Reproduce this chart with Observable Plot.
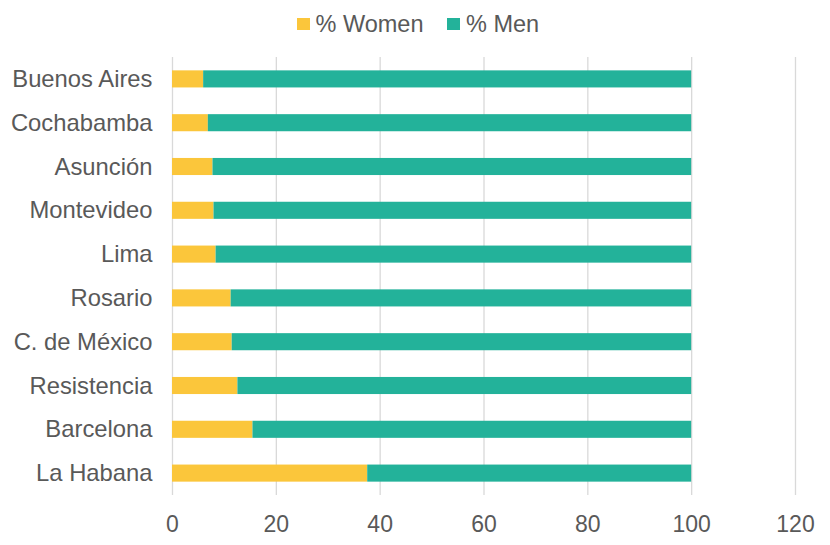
<!DOCTYPE html>
<html>
<head>
<meta charset="utf-8">
<script src="https://cdn.jsdelivr.net/npm/d3@7"></script>
<script src="https://cdn.jsdelivr.net/npm/@observablehq/plot@0.6"></script>
<style>
  html, body { margin: 0; padding: 0; background: #fff; }
  body { width: 830px; height: 545px; overflow: hidden; font-family: "Liberation Sans", Arial, sans-serif; position: relative; }
  #legend { position: absolute; left: 297px; top: 9px; height: 30px; display: flex; align-items: center; color: #595959; font-size: 23.5px; white-space: nowrap; }
  .item { display: flex; align-items: center; margin-right: 24px; }
  .sw { width: 12.5px; height: 12.5px; margin-right: 6px; }
  #chart { position: absolute; left: 0; top: 45px; }
</style>
</head>
<body>
<div id="legend"></div>
<div id="chart"></div>
<script>
const cities = ["Buenos Aires", "Cochabamba", "Asunción", "Montevideo", "Lima", "Rosario", "C. de México", "Resistencia", "Barcelona", "La Habana"];
const women = [6.0, 6.9, 7.8, 8.0, 8.4, 11.3, 11.5, 12.6, 15.5, 37.6];
const men = [94.0, 93.1, 92.2, 92.0, 91.6, 88.7, 88.5, 87.4, 84.5, 62.4];
const seriesNames = ["% Women", "% Men"];
const seriesColors = ["#FBC63B", "#23B29A"];
const xTicks = [0, 20, 40, 60, 80, 100, 120];

const rows = [];
cities.forEach((c, i) => {
  rows.push({city: c, series: seriesNames[0], value: women[i]});
  rows.push({city: c, series: seriesNames[1], value: men[i]});
});

const legend = document.getElementById("legend");
seriesNames.forEach((n, i) => {
  const it = document.createElement("div");
  it.className = "item";
  it.innerHTML = `<span class="sw" style="background:${seriesColors[i]}"></span><span>${n}</span>`;
  legend.appendChild(it);
});

const chart = Plot.plot({
  width: 830,
  height: 500,
  marginTop: 12,
  marginBottom: 50,
  marginLeft: 172,
  marginRight: 35,
  style: {fontFamily: "Liberation Sans, Arial, sans-serif", fontSize: "23px", color: "#595959", background: "#fff"},
  x: {domain: [0, 120], ticks: xTicks, label: null},
  y: {domain: cities, label: null, paddingInner: 0.61, paddingOuter: 0.305, round: false},
  color: {domain: seriesNames, range: seriesColors},
  marks: [
    Plot.ruleX(xTicks, {stroke: "#d9d9d9", strokeWidth: 1.3}),
    Plot.barX(rows, Plot.stackX({y: "city", x: "value", fill: "series", order: seriesNames})),
    Plot.axisX({ticks: xTicks, tickSize: 0, tickPadding: 20, fontSize: 23, fill: "#595959", label: null}),
    Plot.axisY({tickSize: 0, tickPadding: 20, fontSize: 23.8, fill: "#595959", label: null})
  ]
});
document.getElementById("chart").appendChild(chart);
</script>
</body>
</html>
